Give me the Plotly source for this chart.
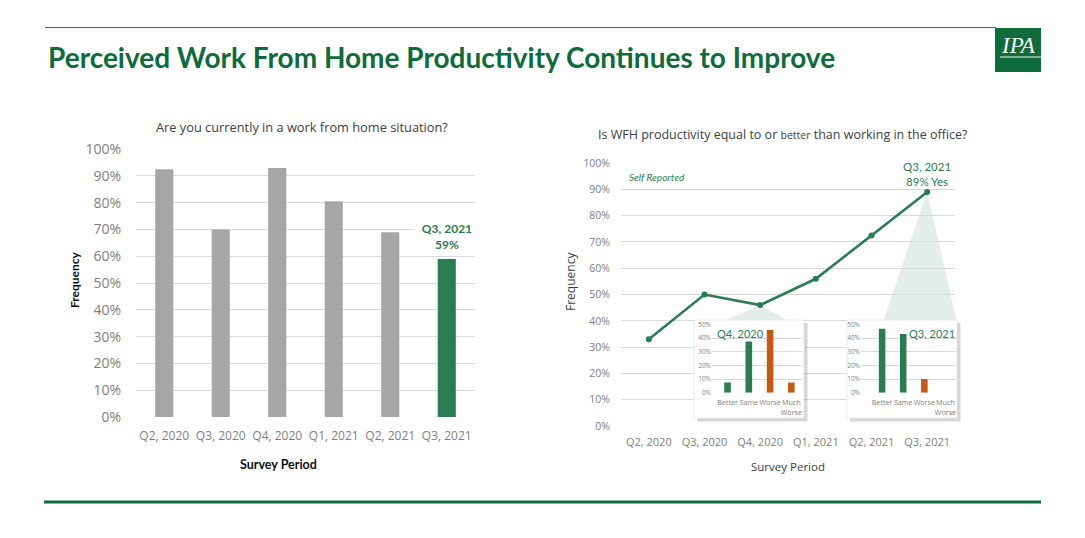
import plotly.graph_objects as go

W, H = 1085, 538


def px(x):
    return x / W


def py(y):
    return 1 - y / H


# ---------------- data ----------------
periods = ["Q2, 2020", "Q3, 2020", "Q4, 2020", "Q1, 2021", "Q2, 2021", "Q3, 2021"]
wfh_share = [0.925, 0.70, 0.93, 0.805, 0.69, 0.59]
productive_yes = [0.33, 0.50, 0.46, 0.56, 0.725, 0.89]
detail_cats = ["Better", "Same", "Worse", "Much<br>Worse"]
detail_q4_2020 = [0.075, 0.375, 0.46, 0.075]
detail_q3_2021 = [0.47, 0.43, 0.10, 0.0]
y_ticks_main = [i / 10 for i in range(11)]
y_ticks_inset = [i / 10 for i in range(6)]

# ---------------- style ----------------
GREEN = "#2A7D52"
DARK_GREEN = "#0E6B3A"
ORANGE = "#C55A11"
GREY_BAR = "#A6A6A6"
GRID = "#D9D9D9"
TICK = "#7F7F7F"
TXT = "#404040"
SEG = "Open Sans"
CAL = "Lato"
SHADE = "#E4EEE9"

# domains (pixels)
L_X = (136, 475)
L_Y = (149, 417)
R_X = (621, 955)
R_Y = (163, 426)
IN1_BOX = (694, 804, 320, 418)
IN2_BOX = (847, 957, 320, 418)
IN1_X = (712, 802)
IN2_X = (861, 956)
IN_Y = (324.5, 392.7)

fig = go.Figure()

# left bars
bar_colors = [GREY_BAR] * (len(periods) - 1) + [GREEN]
fig.add_trace(go.Bar(x=periods, y=wfh_share, marker=dict(color=bar_colors, line=dict(width=0)),
                     width=0.32, xaxis="x", yaxis="y", hoverinfo="skip"))

# right line
fig.add_trace(go.Scatter(x=periods, y=productive_yes, mode="lines+markers",
                         line=dict(color=GREEN, width=2.6),
                         marker=dict(color=GREEN, size=6),
                         xaxis="x2", yaxis="y2", hoverinfo="skip"))

# inset 1 white box (dummy subplot)
fig.add_trace(go.Scatter(x=[], y=[], xaxis="x3", yaxis="y3", hoverinfo="skip"))
detail_colors = [GREEN, GREEN, ORANGE, ORANGE]
fig.add_trace(go.Bar(x=detail_cats, y=detail_q4_2020, marker=dict(color=detail_colors, line=dict(width=0)),
                     width=0.31, xaxis="x4", yaxis="y4", hoverinfo="skip"))
# inset 2
fig.add_trace(go.Scatter(x=[], y=[], xaxis="x5", yaxis="y5", hoverinfo="skip"))
fig.add_trace(go.Bar(x=detail_cats, y=detail_q3_2021, marker=dict(color=detail_colors, line=dict(width=0)),
                     width=0.31, xaxis="x6", yaxis="y6", hoverinfo="skip"))

main_y_common = dict(range=[0, 1.0005], tickvals=y_ticks_main, tickformat=".0%",
                     gridcolor=GRID, gridwidth=1, zeroline=False, showline=False,
                     ticks="outside", tickcolor="rgba(0,0,0,0)", automargin=False)
inset_y_common = dict(range=[0, 0.5005], tickvals=y_ticks_inset, tickformat=".0%",
                      gridcolor=GRID, gridwidth=0.8, zeroline=False, showline=False, automargin=False,
                      tickfont=dict(family=SEG, size=6.5, color=TICK))
hidden = dict(visible=False, range=[0, 1], showgrid=False, zeroline=False, automargin=False)
inset_x_common = dict(type="category", showgrid=False, zeroline=False, showline=False,
                      ticks="outside", ticklen=3, tickcolor="rgba(0,0,0,0)",
                      tickangle=0, automargin=False,
                      tickfont=dict(family=SEG, size=7.2, color=TICK))

fig.update_layout(
    width=W, height=H, autosize=False,
    margin=dict(l=0, r=0, t=0, b=0, pad=0, autoexpand=False),
    paper_bgcolor="white", plot_bgcolor="white",
    showlegend=False,
    font=dict(family=SEG, color=TXT),
    xaxis=dict(domain=[px(L_X[0]), px(L_X[1])], anchor="y", type="category", range=[-0.5, 5.5],
               showgrid=False, zeroline=False, showline=False, automargin=False, tickangle=0,
               ticks="outside", ticklen=8, tickcolor="rgba(0,0,0,0)",
               tickfont=dict(family=SEG, size=12, color=TICK)),
    yaxis=dict(domain=[py(L_Y[1]), py(L_Y[0])], anchor="x", ticklen=11,
               tickfont=dict(family=SEG, size=14, color=TICK), **main_y_common),
    xaxis2=dict(domain=[px(R_X[0]), px(R_X[1])], anchor="y2", type="category", range=[-0.5, 5.5],
                showgrid=False, zeroline=False, showline=False, automargin=False, tickangle=0,
                ticks="outside", ticklen=6, tickcolor="rgba(0,0,0,0)",
                tickfont=dict(family=SEG, size=11, color=TICK)),
    yaxis2=dict(domain=[py(R_Y[1]), py(R_Y[0])], anchor="x2", ticklen=8,
                tickfont=dict(family=SEG, size=10.5, color=TICK), **main_y_common),
    xaxis3=dict(domain=[px(IN1_BOX[0]), px(IN1_BOX[1])], anchor="y3", **hidden),
    yaxis3=dict(domain=[py(IN1_BOX[3]), py(IN1_BOX[2])], anchor="x3", **hidden),
    xaxis4=dict(domain=[px(IN1_X[0]), px(IN1_X[1])], anchor="y4", range=[-0.73, 3.5], **inset_x_common),
    yaxis4=dict(domain=[py(IN_Y[1]), py(IN_Y[0])], anchor="x4", **inset_y_common),
    xaxis5=dict(domain=[px(IN2_BOX[0]), px(IN2_BOX[1])], anchor="y5", **hidden),
    yaxis5=dict(domain=[py(IN2_BOX[3]), py(IN2_BOX[2])], anchor="x5", **hidden),
    xaxis6=dict(domain=[px(IN2_X[0]), px(IN2_X[1])], anchor="y6", range=[-1.0, 3.5], **inset_x_common),
    yaxis6=dict(domain=[py(IN_Y[1]), py(IN_Y[0])], anchor="x6", **inset_y_common),
)


# map a data point of the right chart to paper coords
def right_point(i, v):
    x0, x1 = R_X
    y0, y1 = R_Y
    xp = x0 + (i + 0.5) * (x1 - x0) / len(periods)
    yp = y1 - v * (y1 - y0)
    return px(xp), py(yp)


shapes = []
# header / footer rules
shapes.append(dict(type="line", xref="paper", yref="paper", x0=px(45), x1=px(996), y0=py(27.5), y1=py(27.5),
                   line=dict(color="#2F7A52", width=1)))
shapes.append(dict(type="line", xref="paper", yref="paper", x0=px(44), x1=px(1041), y0=py(502), y1=py(502),
                   line=dict(color=DARK_GREEN, width=3)))
# IPA logo box
shapes.append(dict(type="rect", xref="paper", yref="paper", x0=px(995), x1=px(1041), y0=py(72), y1=py(28),
                   fillcolor=DARK_GREEN, line=dict(width=0)))
shapes.append(dict(type="line", xref="paper", yref="paper", x0=px(1000), x1=px(1041), y0=py(57), y1=py(57),
                   line=dict(color="white", width=1)))

# callout cones
ax_, ay_ = right_point(periods.index("Q4, 2020"), productive_yes[periods.index("Q4, 2020")])
shapes.append(dict(type="path", xref="paper", yref="paper", layer="below",
                   path=f"M {ax_} {ay_} L {px(722)} {py(322)} L {px(790)} {py(322)} Z",
                   fillcolor=SHADE, line=dict(width=0)))
bx_, by_ = right_point(periods.index("Q3, 2021"), productive_yes[periods.index("Q3, 2021")])
shapes.append(dict(type="path", xref="paper", yref="paper", layer="below",
                   path=f"M {bx_} {by_} L {px(883)} {py(322)} L {px(957)} {py(322)} Z",
                   fillcolor=SHADE, line=dict(width=0)))

# inset shadows and borders
for (x0, x1, y0, y1) in (IN1_BOX, IN2_BOX):
    shapes.append(dict(type="rect", xref="paper", yref="paper", x0=px(x1), x1=px(x1 + 3.5),
                       y0=py(y1 + 3.5), y1=py(y0 + 3), fillcolor="rgba(0,0,0,0.16)", line=dict(width=0)))
    shapes.append(dict(type="rect", xref="paper", yref="paper", x0=px(x0 + 3), x1=px(x1),
                       y0=py(y1 + 3.5), y1=py(y1), fillcolor="rgba(0,0,0,0.16)", line=dict(width=0)))
    shapes.append(dict(type="rect", xref="paper", yref="paper", x0=px(x0), x1=px(x1),
                       y0=py(y1), y1=py(y0), fillcolor="rgba(0,0,0,0)",
                       line=dict(color="#E3E3E3", width=0.8)))

fig.update_layout(shapes=shapes)

ann = []
# main title
ann.append(dict(text="Perceived Work From Home Productivity Continues to Improve", xref="paper", yref="paper",
                x=px(46), y=py(57), xanchor="left", yanchor="middle", showarrow=False,
                font=dict(family=CAL, size=28, color=DARK_GREEN, weight="bold")))
ann.append(dict(text="IPA", xref="paper", yref="paper", x=px(1018), y=py(46), xanchor="center", yanchor="middle",
                showarrow=False, font=dict(family="Liberation Serif", size=23, color="white", style="italic")))
# left chart texts
ann.append(dict(text="Are you currently in a work from home situation?", xref="paper", yref="paper",
                x=px(302), y=py(127), xanchor="center", yanchor="middle", showarrow=False,
                font=dict(family=SEG, size=12.8, color=TXT)))
ann.append(dict(text="Frequency", xref="paper", yref="paper", x=px(74), y=py(280), textangle=-90,
                xanchor="center", yanchor="middle", showarrow=False,
                font=dict(family=CAL, size=12, color="#111111", weight="bold")))
ann.append(dict(text="Survey Period", xref="paper", yref="paper", x=px(278), y=py(464),
                xanchor="center", yanchor="middle", showarrow=False,
                font=dict(family=CAL, size=12.5, color="#111111", weight="bold")))
ann.append(dict(text=f"{periods[-1]}<br>{wfh_share[-1]:.0%}", xref="x", yref="y", x=periods[-1], y=wfh_share[-1],
                xanchor="center", yanchor="bottom", yshift=3, showarrow=False, bgcolor="white",
                width=58, borderpad=3,
                font=dict(family=CAL, size=12, color=GREEN, weight="bold")))
# right chart texts
ann.append(dict(text='Is WFH productivity equal to or <span style="font-size:10.5px">better</span> than working in the office?',
                xref="paper", yref="paper", x=px(783), y=py(134), xanchor="center", yanchor="middle",
                showarrow=False, font=dict(family=SEG, size=12.5, color=TXT)))
ann.append(dict(text="Self Reported", xref="paper", yref="paper", x=px(627), y=py(177), xanchor="left",
                yanchor="middle", showarrow=False,
                font=dict(family=CAL, size=10, color=GREEN, style="italic")))
ann.append(dict(text=f"{periods[-1]}<br>{productive_yes[-1]:.0%} Yes", xref="x2", yref="y2",
                x=periods[-1], y=productive_yes[-1], xanchor="center", yanchor="bottom", yshift=2,
                showarrow=False, font=dict(family=CAL, size=11.5, color=GREEN)))
ann.append(dict(text="Frequency", xref="paper", yref="paper", x=px(570), y=py(281), textangle=-90,
                xanchor="center", yanchor="middle", showarrow=False,
                font=dict(family=SEG, size=12, color=TXT)))
ann.append(dict(text="Survey Period", xref="paper", yref="paper", x=px(788), y=py(466),
                xanchor="center", yanchor="middle", showarrow=False,
                font=dict(family=SEG, size=11.5, color=TXT)))
# inset titles
ann.append(dict(text="Q4, 2020", xref="paper", yref="paper", x=px(715), y=py(333), xanchor="left",
                yanchor="middle", showarrow=False, font=dict(family=CAL, size=11, color=GREEN)))
ann.append(dict(text="Q3, 2021", xref="paper", yref="paper", x=px(957), y=py(333), xanchor="right",
                yanchor="middle", showarrow=False, font=dict(family=CAL, size=11, color=GREEN)))

fig.update_layout(annotations=ann)

fig.write_html("out.html", config={"displayModeBar": False},
               post_script="document.body.style.margin='0';")
